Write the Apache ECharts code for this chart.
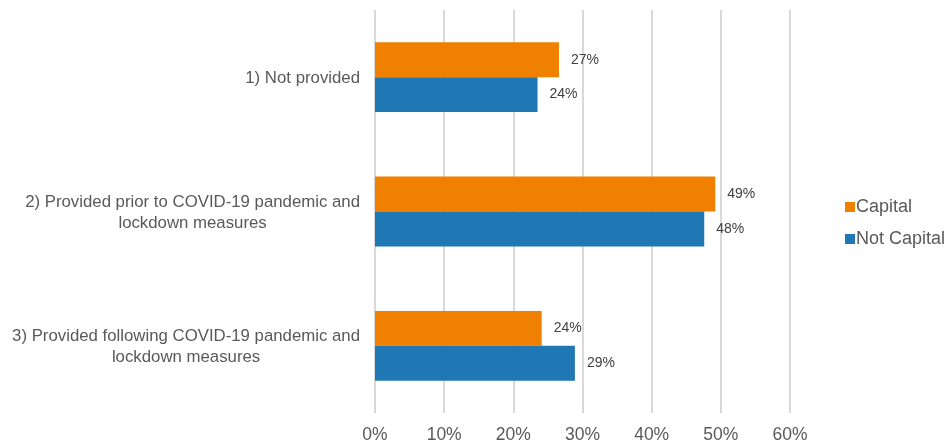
<!DOCTYPE html>
<html>
<head>
<meta charset="utf-8">
<script src="https://cdn.jsdelivr.net/npm/echarts@6/dist/echarts.min.js"></script>
<style>
html,body{margin:0;padding:0;background:#fff;}
#chart{width:952px;height:448px;}
</style>
</head>
<body>
<div id="chart"></div>
<script>
const categories = [
  "1) Not provided",
  "2) Provided prior to COVID-19 pandemic and\nlockdown measures",
  "3) Provided following COVID-19 pandemic and\nlockdown measures"
];
const capital = [26.6, 49.2, 24.1];
const notCapital = [23.5, 47.6, 28.9];
const capitalLabels = ["27%", "49%", "24%"];
const notCapitalLabels = ["24%", "48%", "29%"];
const xTicks = [0, 10, 20, 30, 40, 50, 60];

const FONT = '"Liberation Sans", Arial, sans-serif';
const chart = echarts.init(document.getElementById('chart'));
chart.setOption({
  animation: false,
  backgroundColor: '#ffffff',
  grid: {left: 375, right: 162, top: 10, bottom: 35, containLabel: false},
  legend: {
    orient: 'vertical', left: 840, top: 193, itemGap: 14,
    itemWidth: 10, itemHeight: 10, icon: 'rect',
    textStyle: {fontFamily: FONT, fontSize: 18, color: '#595959', padding: [0, 0, 0, -4]},
    data: ['Capital', 'Not Capital']
  },
  xAxis: {
    type: 'value', min: xTicks[0], max: xTicks[xTicks.length - 1], interval: 10,
    axisLine: {show: false}, axisTick: {show: false},
    splitLine: {lineStyle: {color: '#d9d9d9', width: 2}},
    axisLabel: {fontFamily: FONT, fontSize: 17.5, color: '#595959', margin: 13,
      formatter: v => v + '%'}
  },
  yAxis: {
    type: 'category', data: categories, inverse: true,
    axisLine: {show: false}, axisTick: {show: false},
    axisLabel: {
      align: 'right', margin: 15, lineHeight: 21, padding: [3, 0, 0, 0],
      fontFamily: FONT, fontSize: 16.8, color: '#595959',
      formatter: v => v.split('\n').map(l => '{c|' + l + '}').join('\n'),
      rich: {c: {align: 'center', fontFamily: FONT, fontSize: 16.8, color: '#595959', lineHeight: 21}}
    }
  },
  series: [
    {
      name: 'Capital', type: 'bar', data: capital, barGap: '0%', barCategoryGap: '48%',
      itemStyle: {color: '#F08000'},
      label: {show: true, position: 'right', distance: 12, fontFamily: FONT, fontSize: 14, color: '#404040',
        formatter: p => capitalLabels[p.dataIndex]}
    },
    {
      name: 'Not Capital', type: 'bar', data: notCapital, barGap: '0%', barCategoryGap: '48%',
      itemStyle: {color: '#1F77B4'},
      label: {show: true, position: 'right', distance: 12, fontFamily: FONT, fontSize: 14, color: '#404040',
        formatter: p => notCapitalLabels[p.dataIndex]}
    }
  ]
});
</script>
</body>
</html>
